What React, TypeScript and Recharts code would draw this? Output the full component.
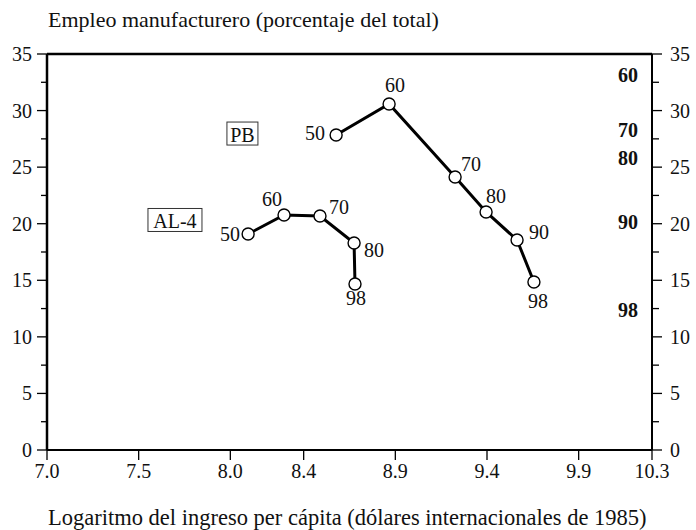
import React from 'react';
import { ComposedChart, Scatter, XAxis, YAxis, ReferenceLine } from 'recharts';

// ---- data ----
const pbYears = ['50', '60', '70', '80', '90', '98'];
const pbIncome = [8.577, 8.866, 9.226, 9.395, 9.564, 9.656];
const pbEmployment = [27.84, 30.58, 24.13, 21.04, 18.56, 14.85];

const alYears = ['50', '60', '70', '80', '98'];
const alIncome = [8.097, 8.293, 8.489, 8.675, 8.68];
const alEmployment = [19.09, 20.77, 20.68, 18.3, 14.67];

const xTicks = [7.0, 7.5, 8.0, 8.4, 8.9, 9.4, 9.9, 10.3];
const yMajorTicks = [0, 5, 10, 15, 20, 25, 30, 35];
const yMinorTicks = [2.5, 7.5, 12.5, 17.5, 22.5, 27.5, 32.5];

const sideLabels = ['60', '70', '80', '90', '98'];
const sideLabelLevels = [33.1, 28.25, 25.8, 20.15, 12.4];
const sideLabelIncome = 10.169;

const groupNames = ['PB', 'AL-4'];
const groupNameIncome = [8.066, 7.698];
const groupNameEmployment = [27.97, 20.33];

const titleText = 'Empleo manufacturero (porcentaje del total)';
const xTitleText = 'Logaritmo del ingreso per cápita (dólares internacionales de 1985)';

// ---- style (label offsets relative to markers) ----
const pbLabelOffsets: [number, number][] = [[-21, -2], [6, -19], [16, -13], [10, -16], [22, -8], [4, 19]];
const alLabelOffsets: [number, number][] = [[-18, 0], [-12, -16], [19, -9], [20, 7], [1, 14]];

const FONT = "'Liberation Serif', 'Times New Roman', serif";
const NUM_SIZE = 20;
const textStyle: React.CSSProperties = { fontFamily: FONT, fontSize: NUM_SIZE };

const pbData = pbYears.map((year, i) => ({ year, x: pbIncome[i], y: pbEmployment[i], off: pbLabelOffsets[i] }));
const alData = alYears.map((year, i) => ({ year, x: alIncome[i], y: alEmployment[i], off: alLabelOffsets[i] }));
const sideData = sideLabels.map((label, i) => ({ label, x: sideLabelIncome, y: sideLabelLevels[i] }));
const groupData = groupNames.map((label, i) => ({ label, x: groupNameIncome[i], y: groupNameEmployment[i] }));
const yTicks = [...yMajorTicks, ...yMinorTicks].sort((a, b) => a - b);

const TICK_SIZE = 10;
const MINOR_SIZE = 6;
const LEFT_MARGIN = 5;
const RIGHT_MARGIN = 8;

const LeftTick = (props: any) => {
  const { x, y, payload } = props;
  const v = payload.value;
  const major = v % 5 === 0;
  const axisX = x + LEFT_MARGIN + TICK_SIZE;
  return (
    <g>
      <line x1={axisX - (major ? TICK_SIZE : MINOR_SIZE)} x2={axisX} y1={y} y2={y} stroke="#000" strokeWidth={1.3} />
      {major && (
        <text x={x} y={y} textAnchor="end" dominantBaseline="central" style={textStyle} fill="#111">
          {v}
        </text>
      )}
    </g>
  );
};

const RightTick = (props: any) => {
  const { x, y, payload } = props;
  const v = payload.value;
  const major = v % 5 === 0;
  const axisX = x - RIGHT_MARGIN - TICK_SIZE;
  return (
    <g>
      <line x1={axisX} x2={axisX + (major ? TICK_SIZE : MINOR_SIZE + 1)} y1={y} y2={y} stroke="#000" strokeWidth={1.3} />
      {major && (
        <text x={x} y={y} textAnchor="start" dominantBaseline="central" style={textStyle} fill="#111">
          {v}
        </text>
      )}
    </g>
  );
};

const BottomTick = (props: any) => {
  const { x, y, payload } = props;
  return (
    <text x={x} y={y} textAnchor="middle" dominantBaseline="hanging" style={textStyle} fill="#111">
      {Number(payload.value).toFixed(1)}
    </text>
  );
};

const PointShape = (props: any) => {
  const { cx, cy, payload } = props;
  const [dx, dy] = payload.off;
  return (
    <g>
      <circle cx={cx} cy={cy} r={6} fill="#fff" stroke="#000" strokeWidth={1.4} />
      <text x={cx + dx} y={cy + dy} textAnchor="middle" dominantBaseline="central" style={textStyle} fill="#111">
        {payload.year}
      </text>
    </g>
  );
};

const SideLabelShape = (props: any) => {
  const { cx, cy, payload } = props;
  return (
    <text x={cx} y={cy} textAnchor="middle" dominantBaseline="central" style={{ ...textStyle, fontWeight: 'bold' }} fill="#111">
      {payload.label}
    </text>
  );
};

const GroupShape = (props: any) => {
  const { cx, cy, payload } = props;
  const w = payload.label.length > 2 ? 54 : 31;
  const h = 23;
  return (
    <g>
      <rect x={cx - w / 2} y={cy - h / 2} width={w} height={h} fill="#fff" stroke="#333" strokeWidth={1} />
      <text x={cx} y={cy + 1} textAnchor="middle" dominantBaseline="central" style={textStyle} fill="#111">
        {payload.label}
      </text>
    </g>
  );
};

export default function App() {
  return (
    <div style={{ position: 'absolute', left: 0, top: 0, width: 696, height: 530, background: '#fff' }}>
      <ComposedChart width={696} height={530} margin={{ top: 54, right: 0, bottom: 50, left: 0 }}>
        <XAxis
          type="number"
          dataKey="x"
          domain={[7.0, 10.3]}
          ticks={xTicks}
          interval={0}
          allowDataOverflow
          height={30}
          tickSize={10}
          tickMargin={4}
          axisLine={{ stroke: '#000', strokeWidth: 2 }}
          tickLine={{ stroke: '#000', strokeWidth: 1.3 }}
          tick={BottomTick}
        />
        <YAxis
          yAxisId="left"
          type="number"
          orientation="left"
          domain={[0, 35]}
          ticks={yTicks}
          interval={0}
          width={47}
          tickSize={TICK_SIZE}
          tickMargin={LEFT_MARGIN}
          tickLine={false}
          axisLine={{ stroke: '#000', strokeWidth: 2.5 }}
          tick={LeftTick}
        />
        <YAxis
          yAxisId="right"
          type="number"
          orientation="right"
          domain={[0, 35]}
          ticks={yTicks}
          interval={0}
          width={44}
          tickSize={TICK_SIZE}
          tickMargin={RIGHT_MARGIN}
          tickLine={false}
          axisLine={{ stroke: '#000', strokeWidth: 2 }}
          tick={RightTick}
        />
        <ReferenceLine yAxisId="left" y={35} stroke="#000" strokeWidth={2.5} />
        <Scatter
          yAxisId="left"
          data={alData}
          dataKey="y"
          line={{ stroke: '#000', strokeWidth: 3 }}
          lineType="joint"
          shape={PointShape}
          isAnimationActive={false}
        />
        <Scatter
          yAxisId="left"
          data={pbData}
          dataKey="y"
          line={{ stroke: '#000', strokeWidth: 3 }}
          lineType="joint"
          shape={PointShape}
          isAnimationActive={false}
        />
        <Scatter yAxisId="left" data={groupData} dataKey="y" shape={GroupShape} isAnimationActive={false} />
        <Scatter yAxisId="right" data={sideData} dataKey="y" shape={SideLabelShape} isAnimationActive={false} />
      </ComposedChart>
      <svg width={696} height={530} style={{ position: 'absolute', left: 0, top: 0, pointerEvents: 'none' }}>
        <text x={48} y={27} style={{ fontFamily: FONT, fontSize: 22 }} fill="#111">
          {titleText}
        </text>
        <text x={48} y={525} style={{ fontFamily: FONT, fontSize: 22.5 }} fill="#111">
          {xTitleText}
        </text>
      </svg>
    </div>
  );
}
